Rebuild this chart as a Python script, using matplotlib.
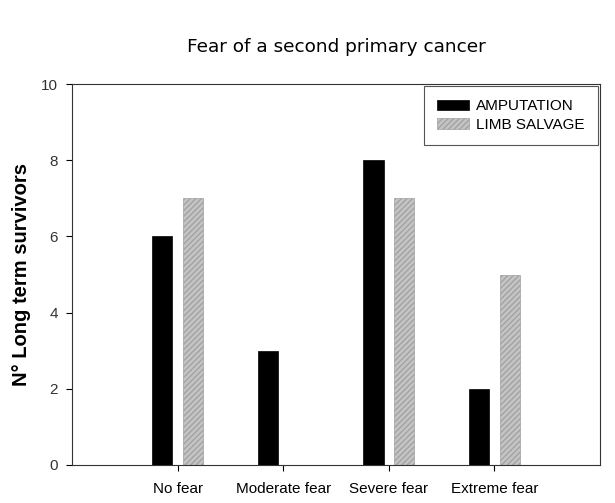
import matplotlib
matplotlib.use("Agg")
import matplotlib.pyplot as plt
import numpy as np

categories = ["No fear", "Moderate fear", "Severe fear", "Extreme fear"]
amputation = [6, 3, 8, 2]
limb_salvage = [7, 0, 7, 5]
y_ticks = [0, 2, 4, 6, 8, 10]

plt.rcParams['hatch.color'] = '#707070'
plt.rcParams['hatch.linewidth'] = 0.9

fig = plt.figure(figsize=(6.15, 5.03), dpi=100)
ax = fig.add_axes([72/615, 1-465/503, (600-72)/615, (465-84)/503])

x = np.arange(1, len(categories) + 1)
w = 0.19
ax.bar(x - 0.145, amputation, width=w, color='black', edgecolor='black', linewidth=0.5, label='AMPUTATION')
ax.bar(x + 0.145, limb_salvage, width=w, color='#c4c4c4', edgecolor='#a0a0a0', linewidth=0.5,
       hatch='//////', label='LIMB SALVAGE')

ax.set_xlim(0, 5)
ax.set_ylim(0, 10)
ax.set_xticks(x)
ax.set_xticklabels(categories, family='Liberation Sans', fontsize=11)
ax.set_yticks(y_ticks)
ax.set_yticklabels([str(t) for t in y_ticks], family='Liberation Sans', fontsize=11, color='#333333')
ax.tick_params(direction='out', length=4, width=0.8, pad=6)
ax.tick_params(axis='x', pad=8)
for s in ax.spines.values():
    s.set_linewidth(0.8)
    s.set_color('#333333')

ax.set_ylabel('N° Long term survivors', family='Liberation Sans', fontweight='bold', fontsize=14.5, labelpad=7)
fig.text(336/615, 1-47/503, 'Fear of a second primary cancer', family='DejaVu Sans', fontsize=13.3,
         ha='center', va='center')

leg = ax.legend(loc='upper right', prop={'family': 'Liberation Sans', 'size': 11},
                fancybox=False, edgecolor='#555555', framealpha=1, borderaxespad=0.15,
                handlelength=2.1, handleheight=0.7, handletextpad=0.5,
                borderpad=0.85, labelspacing=0.3)
leg.get_frame().set_linewidth(0.8)

fig.savefig('out.png', dpi=100)
